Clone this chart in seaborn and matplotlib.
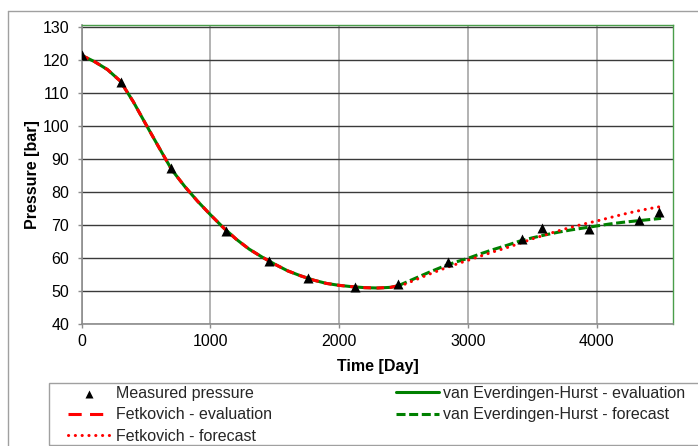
import matplotlib
matplotlib.use("Agg")
import matplotlib.pyplot as plt
from matplotlib.lines import Line2D
from matplotlib.patches import Rectangle
import seaborn as sns

# Measured reservoir pressure
t_measured = [0, 302, 696, 1121, 1451, 1760, 2121, 2455, 2848, 3423, 3575, 3937, 4331, 4486]
p_measured = [121.6, 113.4, 87.3, 68.2, 59.2, 53.9, 51.2, 52.1, 59.0, 66.0, 69.1, 68.9, 71.6, 74.0]

# Aquifer model history match (evaluation period)
t_eval = [0, 100, 200, 300, 400, 500, 600, 700, 800, 900, 1000, 1100, 1200, 1300,
          1400, 1500, 1600, 1700, 1800, 1900, 2000, 2100, 2200, 2300, 2400, 2460]
p_veh_eval = [121.5, 119.6, 117.2, 113.7, 107.5, 100.5, 93.6, 86.8, 81.8, 77.3, 73.2, 69.3, 65.8,
              62.8, 60.4, 58.2, 56.2, 54.7, 53.4, 52.4, 51.8, 51.4, 51.1, 51.0, 51.2, 51.7]
p_fet_eval = [121.5, 119.6, 117.2, 113.7, 107.5, 100.5, 93.6, 86.8, 81.8, 77.3, 73.2, 69.3, 65.8,
              62.8, 60.4, 58.2, 56.2, 54.7, 53.4, 52.4, 51.8, 51.4, 51.1, 51.0, 51.2, 51.7]

# Aquifer model prediction (forecast period)
t_fore = [2460, 2500, 2600, 2700, 2800, 2900, 3000, 3100, 3200, 3300, 3400,
          3500, 3600, 3700, 3800, 3900, 4000, 4100, 4200, 4300, 4400, 4500]
p_veh_fore = [51.7, 52.4, 54.1, 55.8, 57.4, 58.8, 60.0, 61.4, 62.7, 63.9, 65.2,
              66.2, 67.1, 67.9, 68.6, 69.2, 69.8, 70.4, 70.9, 71.3, 71.7, 72.1]
p_fet_fore = [51.7, 52.0, 53.6, 55.2, 56.7, 58.1, 59.4, 60.7, 62.0, 63.2, 64.5,
              65.9, 67.1, 68.3, 69.4, 70.4, 71.3, 72.3, 73.3, 74.2, 75.0, 75.7]

y_ticks = [40, 50, 60, 70, 80, 90, 100, 110, 120, 130]
x_ticks = [0, 1000, 2000, 3000, 4000]

lbl_meas = "Measured pressure"
lbl_fet_eval = "Fetkovich - evaluation"
lbl_fet_fore = "Fetkovich - forecast"
lbl_veh_eval = "van Everdingen-Hurst - evaluation"
lbl_veh_fore = "van Everdingen-Hurst - forecast"

sns.set_theme(style="white")
plt.rcParams["font.family"] = ["Liberation Sans", "DejaVu Sans"]
plt.rcParams["lines.scale_dashes"] = False

FS = 11.5
W, H = 698, 446
fig = plt.figure(figsize=(W / 100, H / 100), dpi=100)
ax = fig.add_axes([81.7 / W, 1 - 324.3 / H, (673.3 - 81.7) / W, (324.3 - 24.7) / H])

GREEN = "#008000"
RED = "#ff0000"
LW = 2.2

sns.lineplot(x=t_eval, y=p_veh_eval, ax=ax, color=GREEN, linewidth=LW,
             label=lbl_veh_eval, zorder=3)
sns.lineplot(x=t_eval, y=p_fet_eval, ax=ax, color=RED, linewidth=LW,
             linestyle=(0, (5.5, 4.0)), label=lbl_fet_eval, zorder=4)
sns.lineplot(x=t_fore, y=p_veh_fore, ax=ax, color=GREEN, linewidth=LW,
             linestyle=(0, (6.5, 2.6)), label=lbl_veh_fore, zorder=3)
sns.lineplot(x=t_fore, y=p_fet_fore, ax=ax, color=RED, linewidth=LW,
             linestyle=(0, (0.1, 4.8)), dash_capstyle="round",
             label=lbl_fet_fore, zorder=4)
sns.scatterplot(x=t_measured, y=p_measured, ax=ax, marker="^", color="black",
                s=52, linewidth=0, label=lbl_meas, zorder=5)

if ax.get_legend() is not None:
    ax.get_legend().remove()

ax.set_xlim(0, 4595)
ax.set_ylim(40, 130.8)
ax.set_xticks(x_ticks)
ax.set_yticks(y_ticks)

ax.set_axisbelow(True)
ax.yaxis.grid(True, color="#3a3a3a", linewidth=1.0)
ax.xaxis.grid(True, color="#a6a6a6", linewidth=1.2)

for side in ("left", "bottom"):
    ax.spines[side].set_color("#8c8c8c")
    ax.spines[side].set_linewidth(1.2)
for side in ("top", "right"):
    ax.spines[side].set_color("#4a9e4a")
    ax.spines[side].set_linewidth(1.0)

ax.tick_params(axis="both", which="major", direction="out", length=3,
               width=1.0, color="#8c8c8c", labelsize=FS, labelcolor="black")
ax.tick_params(axis="y", pad=6.0, left=True)
ax.tick_params(axis="x", pad=4.0, bottom=True)

ax.set_xlabel("Time [Day]", fontsize=FS, fontweight="bold", color="black")
ax.set_ylabel("Pressure [bar]", fontsize=FS, fontweight="bold", color="black")
ax.xaxis.set_label_coords(0.5, (324.3 - 366.7) / (324.3 - 24.7))
ax.xaxis.label.set_verticalalignment("center")
ax.yaxis.set_label_coords((32 - 81.7) / (673.3 - 81.7), 0.5)
ax.yaxis.label.set_verticalalignment("center")

# Chart frame and legend frame
fig.add_artist(Line2D([8 / W, 1.0], [1 - 10.7 / H] * 2, transform=fig.transFigure,
                      color="#a0a0a0", linewidth=1.0))
fig.add_artist(Line2D([8 / W] * 2, [1 - 10.7 / H, 0.0], transform=fig.transFigure,
                      color="#a0a0a0", linewidth=1.0))
fig.add_artist(Rectangle((49.3 / W, 1 - 445.3 / H), 1.0, (445.3 - 383.3) / H,
                         transform=fig.transFigure, fill=False,
                         edgecolor="#a0a0a0", linewidth=1.0))

handles, labels = ax.get_legend_handles_labels()
hmap = dict(zip(labels, handles))
# longer dashes for the legend sample of the Fetkovich evaluation line
hmap[lbl_fet_eval] = Line2D([], [], color=RED, linewidth=LW, linestyle=(0, (9.5, 6.0)))
col1 = [lbl_meas, lbl_fet_eval, lbl_fet_fore]
col2 = [lbl_veh_eval, lbl_veh_fore]

common = dict(loc="upper left", frameon=False, borderpad=0, borderaxespad=0,
              labelspacing=0.4, fontsize=FS, bbox_transform=fig.transFigure)
fig.legend([hmap[l] for l in col1], col1, bbox_to_anchor=(68 / W, 1 - 386.0 / H),
           handlelength=2.63, handletextpad=0.375, markerscale=0.8, **common)
fig.legend([hmap[l] for l in col2], col2, bbox_to_anchor=(395.7 / W, 1 - 386.0 / H),
           handlelength=2.73, handletextpad=0.21, **common)

fig.savefig("out.png", dpi=100)
